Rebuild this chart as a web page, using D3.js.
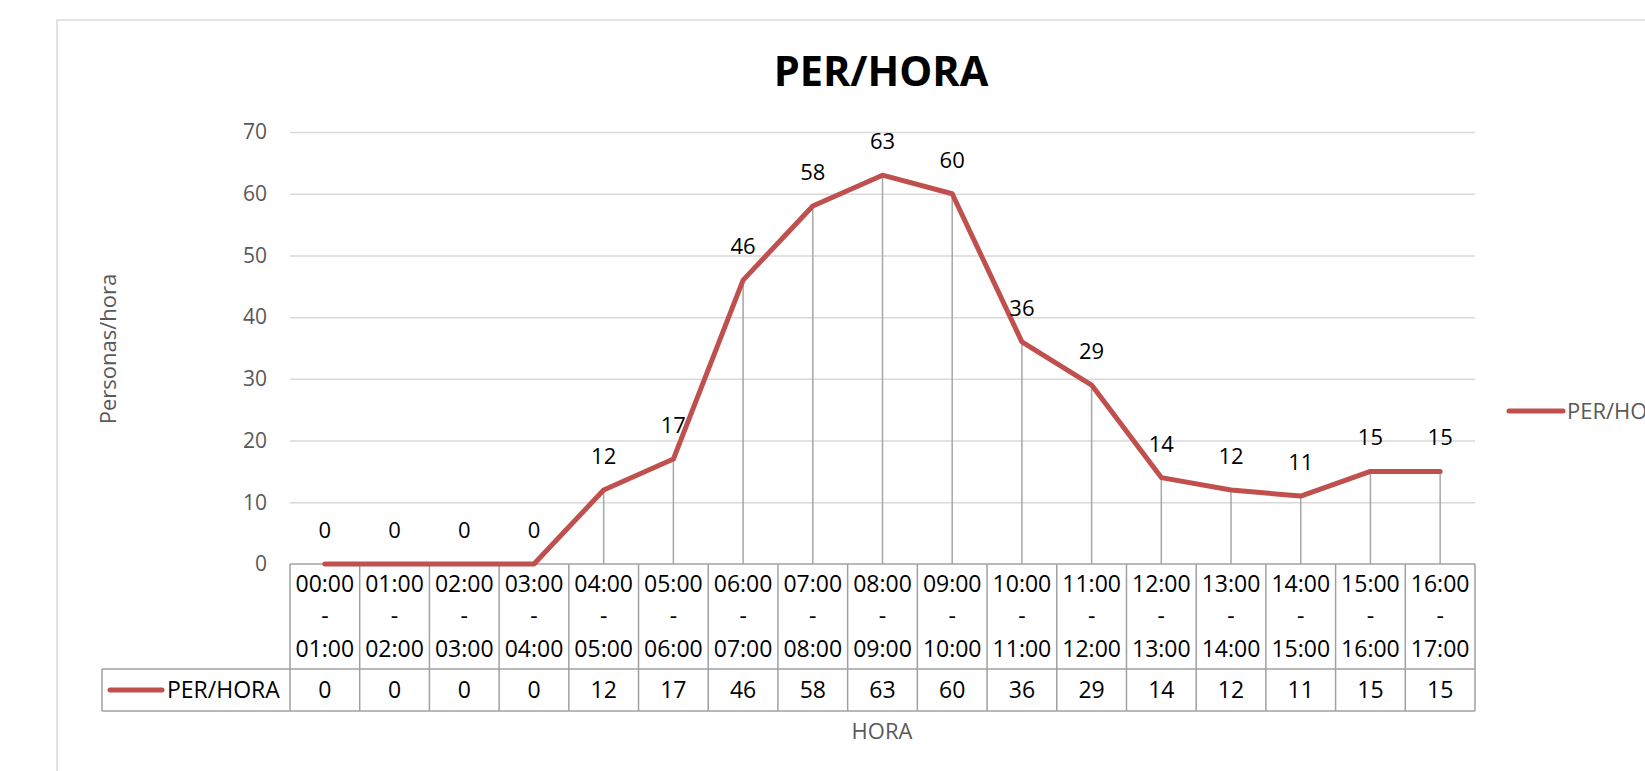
<!DOCTYPE html>
<html><head><meta charset="utf-8">
<script src="https://cdn.jsdelivr.net/npm/d3@7"></script>
<style>body{margin:0;background:#fff;} svg{display:block;}</style>
</head><body>
<svg id="c" width="1645" height="771"></svg>
<script>
const startTimes = ["00:00","01:00","02:00","03:00","04:00","05:00","06:00","07:00","08:00","09:00","10:00","11:00","12:00","13:00","14:00","15:00","16:00"];
const endTimes   = ["01:00","02:00","03:00","04:00","05:00","06:00","07:00","08:00","09:00","10:00","11:00","12:00","13:00","14:00","15:00","16:00","17:00"];
const values     = [0,0,0,0,12,17,46,58,63,60,36,29,14,12,11,15,15];
const yTicks     = [0,10,20,30,40,50,60,70];
const seriesName = "PER/HORA";
const chartTitle = "PER/HORA";
const yTitle = "Personas/hora";
const xTitle = "HORA";

(function(){
const categories = startTimes.map((s,i)=>s+" - "+endTimes[i]);
const data = categories.map((c,i)=>({c, s:startTimes[i], e:endTimes[i], v:values[i]}));

const svg = d3.select("#c");
const FONT = "'Open Sans', sans-serif";
const LINE = "#c0504d";
const pL = 290, pR = 1475, pT = 132, pB = 564;
const tableMid = 669, tableBot = 711, legendLeft = 102;

const x = d3.scaleBand().domain(categories).range([pL, pR]);
const y = d3.scaleLinear().domain([0,70]).range([pB, pT]);

// chart border
svg.append("rect").attr("x",57).attr("y",20).attr("width",1700).attr("height",900)
  .attr("fill","none").attr("stroke","#d9d9d9").attr("stroke-width",1.5);

// title
svg.append("text").attr("x",881).attr("y",86).attr("text-anchor","middle")
  .attr("font-family",FONT).attr("font-weight","bold").attr("font-size",41.5).attr("fill","#000")
  .text(chartTitle);

// gridlines
const grid = svg.append("g").attr("transform",`translate(${pL},0)`)
  .call(d3.axisLeft(y).tickValues(yTicks.filter(t=>t>0)).tickSize(-(pR-pL)).tickFormat(""));
grid.select(".domain").remove();
grid.selectAll("line").attr("stroke","#d9d9d9").attr("stroke-width",1.5);

// y axis labels
const ya = svg.append("g").attr("transform",`translate(${pL-10},0)`)
  .call(d3.axisLeft(y).tickValues(yTicks).tickSize(0).tickPadding(13));
ya.select(".domain").remove();
ya.selectAll("text").attr("font-family",FONT).attr("font-size",21).attr("fill","#595959");

// y title
svg.append("text").attr("transform","translate(107,349) rotate(-90)").attr("text-anchor","middle")
  .attr("dominant-baseline","central")
  .attr("font-family",FONT).attr("font-size",22).attr("fill","#595959").text(yTitle);

// drop lines
const cx = d=>x(d.c)+x.bandwidth()/2;
svg.append("g").selectAll("line").data(data).join("line")
  .attr("x1",cx).attr("x2",cx).attr("y1",d=>y(d.v)).attr("y2",y(0))
  .attr("stroke","#a6a6a6").attr("stroke-width",1.5);

// table grid
const tg = svg.append("g").attr("stroke","#a0a0a0").attr("stroke-width",1.5);
tg.append("line").attr("x1",pL).attr("x2",pR).attr("y1",y(0)).attr("y2",y(0));
tg.append("line").attr("x1",legendLeft).attr("x2",pR).attr("y1",tableMid).attr("y2",tableMid);
tg.append("line").attr("x1",legendLeft).attr("x2",pR).attr("y1",tableBot).attr("y2",tableBot);
tg.append("line").attr("x1",legendLeft).attr("x2",legendLeft).attr("y1",tableMid).attr("y2",tableBot);
tg.selectAll(".v").data(categories.concat(["end"])).join("line").attr("class","v")
  .attr("x1",(d,i)=>i<categories.length?x(d):pR).attr("x2",(d,i)=>i<categories.length?x(d):pR)
  .attr("y1",y(0)).attr("y2",tableBot);

// category labels
const cat = svg.append("g").attr("font-family",FONT).attr("font-size",23).attr("fill","#000").attr("text-anchor","middle");
cat.selectAll(".s").data(data).join("text").attr("class","s").attr("x",cx).attr("y",592).text(d=>d.s);
cat.selectAll(".d").data(data).join("text").attr("class","d").attr("x",cx).attr("y",624).text("-");
cat.selectAll(".e").data(data).join("text").attr("class","e").attr("x",cx).attr("y",657).text(d=>d.e);
cat.selectAll(".v").data(data).join("text").attr("class","v").attr("x",cx).attr("y",698).text(d=>d.v);

// legend cell in table
svg.append("line").attr("x1",110).attr("x2",162).attr("y1",690).attr("y2",690)
  .attr("stroke",LINE).attr("stroke-width",5).attr("stroke-linecap","round");
svg.append("text").attr("x",167).attr("y",698).attr("font-family",FONT).attr("font-size",23).attr("fill","#000").text(seriesName);

// series line
svg.append("path").datum(data)
  .attr("d",d3.line().x(cx).y(d=>y(d.v)))
  .attr("fill","none").attr("stroke",LINE).attr("stroke-width",5)
  .attr("stroke-linejoin","round").attr("stroke-linecap","round");

// data labels
svg.append("g").selectAll("text").data(data).join("text")
  .attr("x",cx).attr("y",d=>y(d.v)-26).attr("text-anchor","middle")
  .attr("font-family",FONT).attr("font-size",22).attr("fill","#000").text(d=>d.v);

// x title
svg.append("text").attr("x",882).attr("y",739).attr("text-anchor","middle")
  .attr("font-family",FONT).attr("font-size",22).attr("fill","#595959").text(xTitle);

// right legend
svg.append("line").attr("x1",1509).attr("x2",1563).attr("y1",411).attr("y2",411)
  .attr("stroke",LINE).attr("stroke-width",5).attr("stroke-linecap","round");
svg.append("text").attr("x",1567).attr("y",419).attr("font-family",FONT).attr("font-size",22).attr("fill","#595959").text(seriesName);
})();
</script>
</body></html>
